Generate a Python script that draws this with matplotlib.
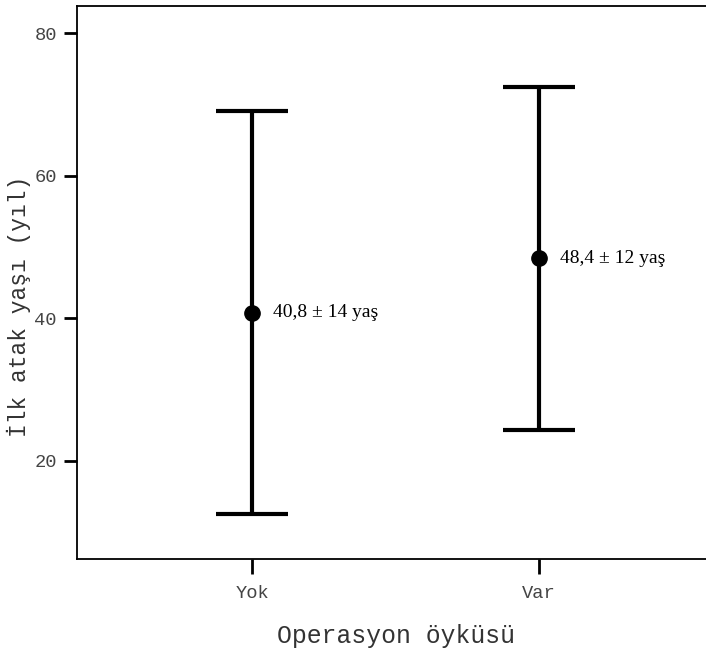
"""Mean +/- 2 SD of age at first attack by surgery history."""

import matplotlib
matplotlib.use('Agg')
import matplotlib.pyplot as plt


groups = ['Yok', 'Var']
means = [40.8, 48.4]
lower = [12.5, 24.3]
upper = [69.1, 72.4]
labels = ['40,8 ± 14 yaş', '48,4 ± 12 yaş']
yticks = [20, 40, 60, 80]

MONO = 'Liberation Mono'
SERIF = 'Liberation Serif'


def main():
    fig = plt.figure(figsize=(7.06, 6.53), dpi=100)
    W, H = 706, 653
    ax = fig.add_axes([77 / W, 1 - 559 / H, (W - 77) / W, (559 - 6) / H])

    x = [1, 2]
    yerr = [[m - lo for m, lo in zip(means, lower)],
            [hi - m for m, hi in zip(means, upper)]]
    ax.errorbar(x, means, yerr=yerr, fmt='o', color='black', ms=11,
                elinewidth=3.0, capsize=26, capthick=3.0, zorder=3)

    for xi, m, lab in zip(x, means, labels):
        ax.annotate(lab, (xi, m), xytext=(15, 0), textcoords='offset points',
                    va='center', ha='left', family=SERIF, fontsize=14)

    ax.set_xlim(0.389, 2.581)
    ax.set_ylim(6.2, 83.83)
    ax.set_xticks(x)
    ax.set_xticklabels(groups)
    ax.set_yticks(yticks)

    ax.spines['right'].set_visible(False)
    for sp in ('left', 'top', 'bottom'):
        ax.spines[sp].set_linewidth(1.3)

    ax.tick_params(axis='both', direction='out', width=2.0, color='black',
                   labelcolor='#444444', labelsize=13.5)
    ax.tick_params(axis='y', length=9.5, pad=5)
    ax.tick_params(axis='x', length=11, pad=8)
    for t in ax.get_xticklabels() + ax.get_yticklabels():
        t.set_family(MONO)

    fig.text(19 / W, 1 - 306 / H, 'İlk atak yaşı (yıl)', family=MONO,
             fontsize=16.5, color='#333333', ha='center', va='center',
             rotation=90)
    fig.text(396 / W, 1 - 636 / H, 'Operasyon öyküsü', family=MONO,
             fontsize=17.8, color='#333333', ha='center', va='center')

    fig.savefig('out.png', dpi=100)


if __name__ == '__main__':
    main()
